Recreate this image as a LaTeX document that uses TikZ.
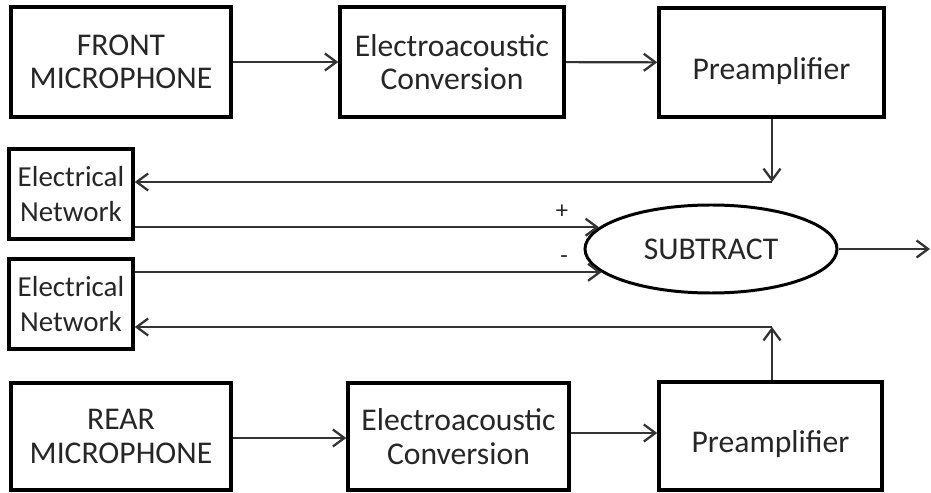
\documentclass[tikz,border=0pt]{standalone}
\usepackage{fontspec}
\setmainfont{Carlito}
\usepackage{tikz}
\usetikzlibrary{arrows.meta,shapes.geometric}

\tikzset{
    block/.style={draw, line width=2pt, inner sep=0pt, align=center,
        text=black!85, font=\fontsize{18}{19}\selectfont},
    netbox/.style={block, font=\fontsize{16.5}{20}\selectfont},
    sum/.style={draw, ellipse, line width=1.7pt, inner sep=0pt,
        minimum width=5.04cm, minimum height=1.76cm,
        text=black!85, font=\fontsize{18}{19}\selectfont},
    link/.style={line width=1.2pt, draw=black!80,
        -{Straight Barb[length=2.3mm,width=3.4mm,line width=1.3pt]}},
    sign/.style={text=black!85, font=\fontsize{14}{14}\selectfont}
}

\begin{document}
\begin{tikzpicture}
        \useasboundingbox (0,0) rectangle (18.62,9.84);

        % Front chain
        \node[block, minimum width=4.4cm, minimum height=2.2cm] (front) at (2.42,8.60) {FRONT\\MICROPHONE};
        \node[block, minimum width=4.48cm, minimum height=2.2cm] (conv1) at (9.04,8.60) {Electroacoustic\\Conversion};
        \node[block, minimum width=4.5cm, minimum height=2.18cm, text height=0.8cm] (pre1) at (15.43,8.59) {Preamplifier};

        % Networks and subtractor
        \node[netbox, minimum width=2.48cm, minimum height=1.8cm] (net1) at (1.42,5.96) {Electrical\\Network};
        \node[netbox, minimum width=2.48cm, minimum height=1.8cm] (net2) at (1.42,3.76) {Electrical\\Network};
        \node[sum] (sub) at (14.22,4.86) {SUBTRACT};

        % Rear chain
        \node[block, minimum width=4.4cm, minimum height=2.14cm] (rear) at (2.42,1.11) {REAR\\MICROPHONE};
        \node[block, minimum width=4.42cm, minimum height=2.14cm] (conv2) at (9.17,1.11) {Electroacoustic\\Conversion};
        \node[block, minimum width=4.46cm, minimum height=2.16cm, text height=0.75cm] (pre2) at (15.41,1.12) {Preamplifier};

        \coordinate (c1) at (15.44,6.20);
        \coordinate (c2) at (15.44,3.30);
        \coordinate (out) at (18.60,4.86);

        % Signal flow
        \draw[link] (front) -- (conv1);
        \draw[link] (conv1) -- (pre1);
        \draw[link] (rear.east |- 0,1.08) -- (conv2.west |- 0,1.08);
        \draw[link] (conv2.east |- 0,1.18) -- (pre2.west |- 0,1.18);

        % Feedback to the networks
        \draw[link] (pre1.south -| c1) -- (c1);
        \draw[link] (c1) -- (c1 -| net1.east);
        \draw[link] (pre2.north -| c2) -- (c2);
        \draw[link] (c2) -- (c2 -| net2.east);

        % Into the subtractor
        \draw[link] (sub.169 -| net1.east) -- node[sign, pos=0.92, above=1pt] {+} (sub.169);
        \draw[link] (sub.192 -| net2.east) -- node[sign, pos=0.92, above=1pt] {-} (sub.192);
        \draw[link] (sub.east) -- (out);
\end{tikzpicture}
\end{document}
